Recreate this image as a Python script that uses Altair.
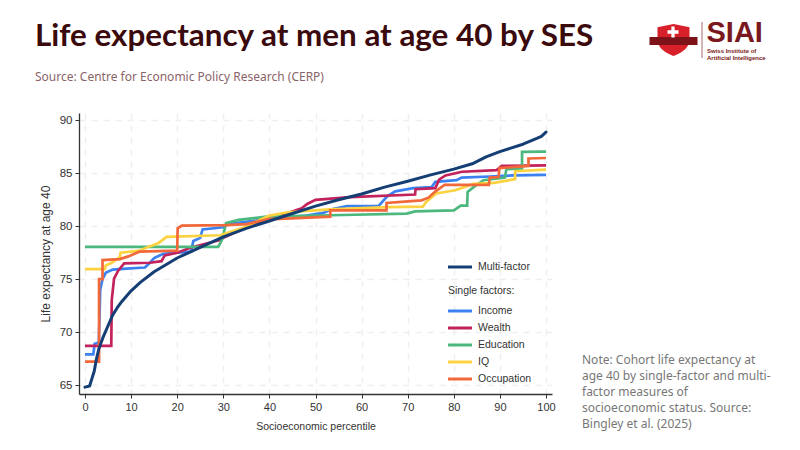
import altair as alt
import pandas as pd

multi_x = [0, 1, 1.5, 2, 2.5, 3, 4, 5, 6, 7, 8, 10, 12, 15, 20, 25, 30, 35, 40, 45, 50, 55, 60, 65, 70, 75, 80, 84, 87, 90, 95, 98, 99, 100]
multi_y = [64.8, 64.9, 65.6, 66.3, 67.5, 68.4, 69.6, 70.6, 71.6, 72.3, 72.9, 73.9, 74.7, 75.7, 77.0, 78.0, 79.0, 79.8, 80.5, 81.2, 81.9, 82.5, 83.05, 83.7, 84.25, 84.85, 85.4, 85.9, 86.55, 87.05, 87.75, 88.3, 88.5, 88.9]

income_x = [0, 1.8, 2.1, 3.0, 3.3, 3.8, 4.5, 6, 9, 13, 14.2, 15, 17, 23, 23.5, 25, 25.5, 30, 31, 40, 48, 51.7, 53.5, 56.8, 63.7, 65.5, 67.3, 71.2, 75.2, 76, 80.6, 81.7, 87.8, 93, 100]
income_y = [67.9, 67.9, 68.9, 69.0, 74.0, 75.0, 75.6, 75.9, 76.0, 76.1, 76.6, 77.0, 77.4, 77.6, 78.6, 78.9, 79.7, 79.9, 80.2, 80.7, 81.0, 81.26, 81.6, 81.9, 81.92, 82.8, 83.3, 83.6, 83.7, 84.2, 84.35, 84.6, 84.7, 84.8, 84.85]

wealth_x = [0, 5.7, 5.8, 6.3, 7.2, 8.5, 14.1, 16.6, 17.3, 20, 23, 29.3, 30, 35, 40, 42.3, 47, 48.2, 50, 57.5, 71.6, 71.7, 76, 76.8, 78.2, 81.8, 89.3, 90.4, 100]
wealth_y = [68.7, 68.7, 73.0, 75.05, 75.8, 76.5, 76.55, 76.7, 77.25, 77.5, 78.0, 78.7, 78.9, 79.9, 80.6, 81.0, 81.7, 82.1, 82.5, 82.75, 83.0, 83.5, 83.6, 84.4, 84.8, 85.15, 85.3, 85.7, 85.75]

education_x = [0, 28.9, 29.7, 30.6, 33.3, 39.4, 53.2, 69.8, 71.6, 80, 81.5, 82.9, 83.0, 84.3, 86.4, 91.1, 91.4, 94.8, 94.8, 100]
education_y = [78.05, 78.05, 78.7, 80.3, 80.6, 80.9, 81.04, 81.2, 81.4, 81.5, 81.95, 81.95, 83.25, 83.7, 84.35, 84.6, 85.4, 85.45, 87.03, 87.05]

iq_x = [0, 4.3, 4.5, 5.8, 7.6, 7.7, 11.9, 13.7, 15.9, 17.7, 29.3, 31.8, 34, 40, 43.7, 46.7, 53.2, 65.8, 73.3, 74, 76.2, 80.3, 84.3, 88.7, 93.3, 93.3, 100]
iq_y = [75.95, 75.95, 76.3, 76.55, 77.1, 77.5, 77.7, 78.05, 78.4, 79.0, 79.15, 79.5, 79.8, 81.0, 81.3, 81.4, 81.6, 81.8, 81.85, 82.3, 83.1, 83.4, 84.0, 84.1, 84.45, 85.2, 85.35]

occupation_x = [0, 3.05, 3.05, 3.8, 3.8, 7.6, 9.4, 11.8, 20, 20.1, 21, 30.7, 35, 40, 42.3, 53.2, 53.2, 65.4, 65.4, 73, 74.5, 75.9, 78, 87.6, 87.8, 89.7, 89.9, 96.2, 96.2, 100]
occupation_y = [67.2, 67.2, 75.0, 75.0, 76.8, 76.9, 77.15, 77.6, 77.7, 79.8, 80.05, 80.1, 80.2, 80.7, 80.7, 80.9, 81.5, 81.5, 82.2, 82.45, 82.7, 83.25, 83.9, 83.9, 84.6, 84.65, 85.5, 85.7, 86.4, 86.45]

series = [
    ("Income", income_x, income_y, "#3b82f0"),
    ("Wealth", wealth_x, wealth_y, "#c2235c"),
    ("Education", education_x, education_y, "#4db87e"),
    ("IQ", iq_x, iq_y, "#fbd23f"),
    ("Occupation", occupation_x, occupation_y, "#f1683a"),
    ("Multi-factor", multi_x, multi_y, "#153e75"),
]

title_text = "Life expectancy at men at age 40 by SES"
source_text = "Source: Centre for Economic Policy Research (CERP)"
note_lines = [
    "Note: Cohort life expectancy at",
    "age 40 by single-factor and multi-",
    "factor measures of",
    "socioeconomic status. Source:",
    "Bingley et al. (2025)",
]

OX, OY = 79, 113  # page position of the plot area
AXIS_FONT = "Liberation Sans"
one = alt.Data(values=[{"a": 0}])


def px(x):
    return alt.value(x - OX)


def py(y):
    return alt.value(y - OY)


def label(text, x, y, size, color, font=AXIS_FONT, weight="normal", **kw):
    return alt.Chart(one).mark_text(
        text=text, font=font, fontSize=size, color=color, fontWeight=weight,
        align="left", baseline="middle", **kw
    ).encode(x=px(x), y=py(y))


def rule(x1, x2, y1, y2, color, width):
    return alt.Chart(one).mark_rule(color=color, strokeWidth=width, strokeCap="butt").encode(
        x=px(x1), x2=px(x2), y=py(y1), y2=py(y2)
    )


def shape(path, x, y, box, color):
    return alt.Chart(one).mark_point(
        shape=path, filled=True, color=color, opacity=1, strokeWidth=0, size=box * box
    ).encode(x=px(x), y=py(y))


x_enc = alt.X(
    "x:Q",
    scale=alt.Scale(domain=[-1.3, 101.3], nice=False, zero=False),
    axis=alt.Axis(
        values=[0, 10, 20, 30, 40, 50, 60, 70, 80, 90, 100],
        title="Socioeconomic percentile", titleFont=AXIS_FONT, titleFontSize=10.5,
        titleFontWeight="normal", titleColor="#333333", titlePadding=9,
        labelFont=AXIS_FONT, labelFontSize=11, labelColor="#333333", labelPadding=3,
        tickColor="#333333", tickSize=4, tickWidth=1, domainColor="#333333", domainWidth=1.3,
        grid=True, gridColor="#efefef", gridDash=[6, 6], gridWidth=1.5,
    ),
)
y_enc = alt.Y(
    "y:Q",
    scale=alt.Scale(domain=[64.15, 90.7], nice=False, zero=False),
    axis=alt.Axis(
        values=[65, 70, 75, 80, 85, 90],
        title="Life expectancy at age 40", titleFont=AXIS_FONT, titleFontSize=12,
        titleFontWeight="normal", titleColor="#333333", titlePadding=7,
        labelFont=AXIS_FONT, labelFontSize=11.5, labelColor="#333333", labelPadding=3,
        tickColor="#333333", tickSize=4, tickWidth=1, domainColor="#333333", domainWidth=1.3,
        grid=True, gridColor="#efefef", gridDash=[6, 6], gridWidth=1.5,
    ),
)

layers = []
for name, xs, ys, color in series:
    df = pd.DataFrame({"x": xs, "y": ys, "i": range(len(xs))})
    is_multi = name == "Multi-factor"
    layers.append(
        alt.Chart(df).mark_line(
            color=color,
            strokeWidth=3.0 if is_multi else 2.7,
            strokeCap="round" if is_multi else "butt",
            strokeJoin="round" if is_multi else "miter",
            clip=False,
        ).encode(x=x_enc, y=y_enc, order=alt.Order("i:Q"))
    )

# Legend
layers.append(rule(448, 472, 267, 267, "#153e75", 3))
layers.append(label("Multi-factor", 478, 267, 10.5, "#333333"))
layers.append(label("Single factors:", 448, 291, 10.5, "#333333"))
leg_y = [311, 328, 345, 362, 379]
for (name, xs, ys, color), ly in zip(series[:5], leg_y):
    layers.append(rule(448, 472, ly, ly, color, 3))
    layers.append(label(name, 478, ly, 10.5, "#333333"))

# Header
layers.append(label(title_text, 35, 37, 31.4, "#3a0a0c", font="Lato", weight="bold"))
layers.append(label(source_text, 35, 77, 12, "#8a6468", font="Noto Sans"))

# Note
for line, ly in zip(note_lines, [360, 376, 392, 408, 424]):
    layers.append(label(line, 582, ly, 12, "#777777", font="Noto Sans"))

# Logo
shield = "M-1,-0.8 L0,-1 L1,-0.8 L1,0.1 C0.9,0.6 0.4,0.85 0,1 C-0.4,0.85 -0.9,0.6 -1,0.1 Z"
band = "M-1,-0.17 L1,-0.17 L1,0.17 L-1,0.17 Z"
cross = "M-0.3,-1 L0.3,-1 L0.3,-0.3 L1,-0.3 L1,0.3 L0.3,0.3 L0.3,1 L-0.3,1 L-0.3,0.3 L-1,0.3 L-1,-0.3 L-0.3,-0.3 Z"
layers.append(shape(shield, 673.5, 40, 32, "#d8202a"))
layers.append(shape(band, 673.5, 41, 48, "#7d1318"))
layers.append(shape(cross, 673, 32, 11, "#ffffff"))
layers.append(rule(702, 702, 22, 58, "#a86a6e", 1))
layers.append(label("SIAI", 706.5, 33, 29, "#7a1820", font="Liberation Sans", weight="bold"))
layers.append(label("Swiss Institute of", 707, 51, 6, "#7a1820", font="Liberation Sans", weight="bold"))
layers.append(label("Artificial Intelligence", 707, 57.5, 6, "#7a1820", font="Liberation Sans", weight="bold"))

chart = (
    alt.layer(*layers)
    .properties(
        width=473,
        height=281,
        autosize=alt.AutoSizeParams(type="none"),
        padding={"left": OX - 8, "top": OY - 8, "right": 232, "bottom": 40},
        background="white",
    )
    .configure_view(stroke=None)
)

chart.save("out.html", embed_options={"renderer": "svg", "actions": False})
